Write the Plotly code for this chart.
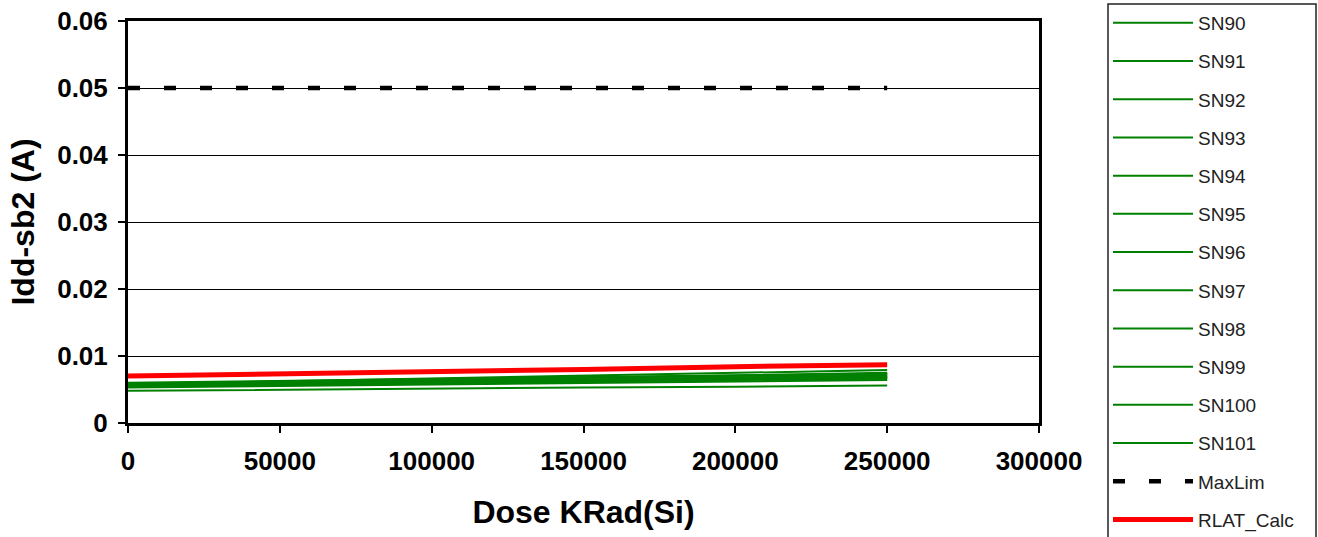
import plotly.graph_objects as go

dose = [0, 50000, 100000, 150000, 200000, 250000]

sn_names = ["SN90", "SN91", "SN92", "SN93", "SN94", "SN95",
            "SN96", "SN97", "SN98", "SN99", "SN100", "SN101"]
sn_values = [
    [0.0058, 0.0062, 0.0066, 0.0071, 0.0075, 0.0079],
    [0.0057, 0.0061, 0.0064, 0.0068, 0.0071, 0.0075],
    [0.0059, 0.0062, 0.0065, 0.0067, 0.0070, 0.0073],
    [0.0056, 0.0059, 0.0062, 0.0065, 0.0068, 0.0071],
    [0.0055, 0.0058, 0.0061, 0.0063, 0.0066, 0.0069],
    [0.0060, 0.0063, 0.0066, 0.0068, 0.0071, 0.0074],
    [0.0054, 0.0056, 0.0059, 0.0061, 0.0064, 0.0066],
    [0.0057, 0.0060, 0.0062, 0.0065, 0.0067, 0.0070],
    [0.0055, 0.0057, 0.0060, 0.0062, 0.0065, 0.0067],
    [0.0056, 0.0058, 0.0061, 0.0063, 0.0066, 0.0068],
    [0.0053, 0.0055, 0.0058, 0.0060, 0.0062, 0.0064],
    [0.0048, 0.0050, 0.0051, 0.0053, 0.0054, 0.0056],
]
maxlim = [0.05, 0.05, 0.05, 0.05, 0.05, 0.05]
rlat_calc = [0.0070, 0.0073, 0.0077, 0.0080, 0.0084, 0.0087]

y_tickvals = [0, 0.01, 0.02, 0.03, 0.04, 0.05, 0.06]
y_ticktext = ["0", "0.01", "0.02", "0.03", "0.04", "0.05", "0.06"]
x_tickvals = [0, 50000, 100000, 150000, 200000, 250000, 300000]
x_ticktext = ["0", "50000", "100000", "150000", "200000", "250000", "300000"]

FONT = "Liberation Sans, Arial, sans-serif"

fig = go.Figure()
for i, (name, vals) in enumerate(zip(sn_names, sn_values)):
    fig.add_trace(go.Scatter(x=dose, y=vals, name=name, mode="lines",
                             line=dict(color="#008000", width=2),
                             legendgroup=f"g{i:02d}"))
fig.add_trace(go.Scatter(x=dose, y=maxlim, name="MaxLim", mode="lines",
                         line=dict(color="black", width=4.5, dash="12px,24px"),
                         legendgroup="g12"))
fig.add_trace(go.Scatter(x=dose, y=rlat_calc, name="RLAT_Calc", mode="lines",
                         line=dict(color="#FF0000", width=5),
                         legendgroup="g13"))

# legend frame (paper coordinates of the plot area: x 128..1039, y 423..21 px)
fig.add_shape(type="rect", xref="paper", yref="paper",
              x0=(1108 - 128) / 911, x1=(1316 - 128) / 911,
              y0=(423 - 560) / 402, y1=(423 - 4) / 402,
              line=dict(color="#222", width=1.5), fillcolor="rgba(0,0,0,0)",
              layer="above")

fig.update_layout(
    width=1318, height=537,
    margin=dict(l=128, r=279, t=21, b=114, autoexpand=False),
    paper_bgcolor="white", plot_bgcolor="white",
    font=dict(family=FONT, color="black"),
    showlegend=True,
    legend=dict(
        x=(1108 - 128) / 911, y=(423 - 4) / 402, xanchor="left", yanchor="top",
        borderwidth=0, bgcolor="rgba(0,0,0,0)",
        font=dict(family=FONT, size=19, color="#222"),
        itemwidth=80, tracegroupgap=10.5, traceorder="grouped",
        maxheight=1000,
    ),
    xaxis=dict(
        range=[0, 300000], tickvals=x_tickvals, ticktext=x_ticktext,
        showgrid=False, zeroline=False,
        showline=True, linecolor="black", linewidth=3, mirror=True,
        ticks="outside", ticklen=7, tickwidth=2, tickcolor="black",
        tickfont=dict(family=FONT, size=26, color="black", weight="bold"),
        ticklabelstandoff=6,
        title=dict(text="<b>Dose KRad(Si)</b>",
                   font=dict(family=FONT, size=32, color="black"),
                   standoff=26),
    ),
    yaxis=dict(
        range=[0, 0.06], tickvals=y_tickvals, ticktext=y_ticktext,
        showgrid=True, gridcolor="black", gridwidth=1, zeroline=False,
        showline=True, linecolor="black", linewidth=3, mirror=True,
        ticks="outside", ticklen=7, tickwidth=2, tickcolor="black",
        tickfont=dict(family=FONT, size=26, color="black", weight="bold"),
        ticklabelstandoff=5,
        title=dict(text="<b>Idd-sb2 (A)</b>",
                   font=dict(family=FONT, size=32, color="black"),
                   standoff=13),
    ),
)

fig.write_html("out.html")
